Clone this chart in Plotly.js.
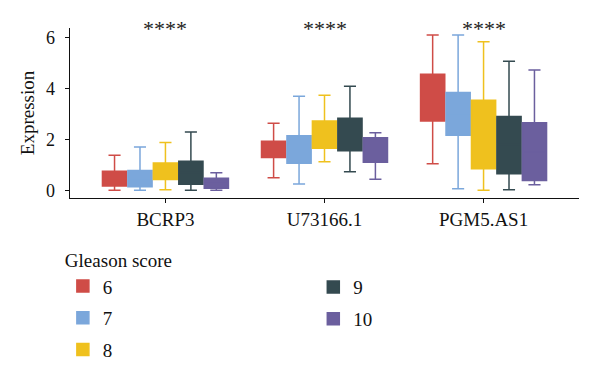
<!DOCTYPE html>
<html>
<head>
<meta charset="utf-8">
<script src="https://cdn.plot.ly/plotly-3.0.1.min.js"></script>
<style>html,body{margin:0;padding:0;background:#fff;}#chart{width:600px;height:382px;}</style>
</head>
<body>
<div id="chart"></div>
<script>
// Data
const genes = ["BCRP3", "U73166.1", "PGM5.AS1"];
const groups = ["6", "7", "8", "9", "10"];
const colors = ["#CF4C47", "#7BA7DB", "#EFC11E", "#344A50", "#6B5F9E"];

// per group: values for [BCRP3, U73166.1, PGM5.AS1]
const lowerWhisker = [
  [0.00, 0.49, 1.04],
  [0.00, 0.25, 0.06],
  [0.02, 1.12, 0.00],
  [0.00, 0.73, 0.02],
  [0.00, 0.43, 0.22]
];
const q1Vals = [
  [0.17, 1.29, 2.72],
  [0.14, 1.06, 2.16],
  [0.42, 1.65, 0.85],
  [0.24, 1.55, 0.65],
  [0.08, 1.10, 0.39]
];
const medianVals = [
  [0.45, 1.60, 3.60],
  [0.45, 1.60, 3.00],
  [0.75, 2.20, 2.20],
  [0.70, 2.20, 1.80],
  [0.28, 1.60, 1.50]
];
const q3Vals = [
  [0.75, 1.92, 4.55],
  [0.78, 2.14, 3.83],
  [1.07, 2.72, 3.53],
  [1.14, 2.82, 2.89],
  [0.47, 2.06, 2.65]
];
const upperWhisker = [
  [1.37, 2.63, 6.09],
  [1.70, 3.69, 6.09],
  [1.87, 3.73, 5.82],
  [2.29, 4.08, 5.06],
  [0.69, 2.26, 4.71]
];
const sigLabels = ["****", "****", "****"];

const FONT = "Liberation Serif, DejaVu Serif, serif";

const traces = groups.map((g, i) => ({
  type: "box",
  name: g,
  x: genes,
  q1: q1Vals[i],
  median: medianVals[i],
  q3: q3Vals[i],
  lowerfence: lowerWhisker[i],
  upperfence: upperWhisker[i],
  fillcolor: colors[i],
  line: {color: colors[i], width: 1.5},
  whiskerwidth: 0.5,
  legend: i < 3 ? "legend" : "legend2",
  legendgroup: "g" + g,
  hoverinfo: "skip"
}));

const annotations = genes.map((gname, k) => ({
  x: gname, xref: "x", y: 0.997, yref: "paper", yanchor: "middle",
  text: sigLabels[k], showarrow: false,
  font: {family: FONT, size: 22, color: "#222"}
}));

const layout = {
  width: 600, height: 382,
  margin: {l: 70, r: 21, t: 28, b: 184},
  paper_bgcolor: "#fff", plot_bgcolor: "#fff",
  font: {family: FONT, size: 19, color: "#111"},
  boxmode: "group",
  boxgap: 0.2,
  boxgroupgap: 0.05,
  xaxis: {
    type: "category",
    range: [-0.6, 2.6],
    showline: true, linecolor: "#111", linewidth: 1.3,
    ticks: "outside", ticklen: 4, tickcolor: "#111", tickwidth: 1.3,
    ticklabelstandoff: 0,
    showgrid: false, zeroline: false,
    tickfont: {family: FONT, size: 19, color: "#111"}
  },
  yaxis: {
    range: [-0.30, 6.36],
    tickvals: [0, 2, 4, 6],
    showline: true, linecolor: "#111", linewidth: 1.3,
    ticks: "outside", ticklen: 4, tickcolor: "#111", tickwidth: 1.3,
    ticklabelstandoff: 6,
    showgrid: false, zeroline: false,
    tickfont: {family: FONT, size: 18, color: "#111"},
    title: {text: "Expression", font: {family: FONT, size: 19, color: "#111"}, standoff: 6}
  },
  legend: {
    title: {text: "Gleason score", font: {family: FONT, size: 19, color: "#111"}},
    font: {family: FONT, size: 19, color: "#111"},
    orientation: "v",
    x: -0.014, xanchor: "left",
    y: -0.262, yanchor: "top",
    tracegroupgap: 4,
    bgcolor: "rgba(0,0,0,0)"
  },
  legend2: {
    font: {family: FONT, size: 19, color: "#111"},
    orientation: "v",
    x: 0.478, xanchor: "left",
    y: -0.413, yanchor: "top",
    tracegroupgap: 4,
    bgcolor: "rgba(0,0,0,0)"
  },
  annotations: annotations,
  showlegend: true
};

Plotly.newPlot("chart", traces, layout, {displayModeBar: false, staticPlot: true});
</script>
</body>
</html>
